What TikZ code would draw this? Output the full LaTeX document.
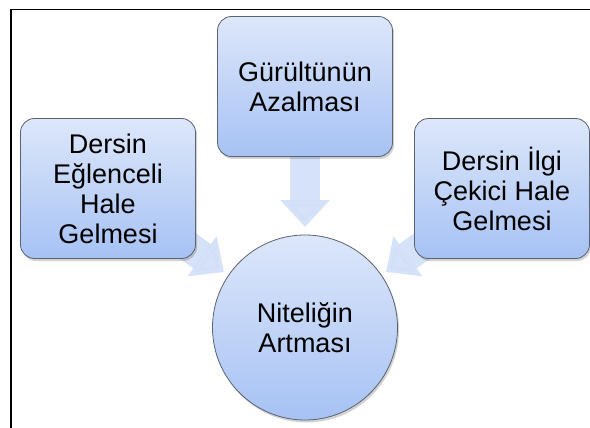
\documentclass[tikz,border=0pt]{standalone}
\usepackage{fontspec}
\setmainfont{Liberation Sans}
\usetikzlibrary{shadows,arrows.meta}
\definecolor{boxtop}{HTML}{DDE7FA}
\definecolor{boxbot}{HTML}{A6C2F4}
\definecolor{arrowc}{HTML}{D2DFF7}
\definecolor{edgec}{HTML}{5C6270}
\pgfdeclarelayer{bg}
\pgfsetlayers{bg,main}
\begin{document}
\begin{tikzpicture}[x=1pt,y=-1pt,
  shade/.style={top color=boxtop, bottom color=boxbot},
  txt/.style={align=center, font=\fontsize{27}{30}\selectfont, text=black},
  shad/.style={drop shadow={shadow xshift=1.5pt, shadow yshift=-2.5pt, opacity=0.25, fill=black!70}},
  box/.style={draw=edgec, line width=0.8pt, rounded corners=14pt, shade, txt, shad,
    minimum width=175pt, minimum height=140pt, inner sep=0pt},
  hub/.style={circle, draw=edgec, line width=0.8pt, shade, txt, shad,
    minimum size=185pt, inner sep=0pt},
  blockarrow/.style={draw=arrowc, line width=30pt, line cap=butt,
    -{Triangle[width=48pt,length=27pt]}, fill opacity=0.9, draw opacity=0.9}
]
\useasboundingbox (0,0) rectangle (590,428);
% frame
\coordinate (fbl) at (11,428);
\coordinate (ftl) at (11,9.5);
\coordinate (ftr) at (590,9.5);
\draw[line width=1.4pt] (fbl) -- (ftl) -- (ftr);

\node[box] (top) at (305,86.5) {Gürültünün\\Azalması};
\node[box] (left) at (108,188.5) {Dersin\\Eğlenceli\\Hale\\Gelmesi};
\node[box] (right) at (502,188.5) {Dersin İlgi\\Çekici Hale\\Gelmesi};
\node[hub] (hub) at (305,327.5) {Niteliğin\\Artması};

\coordinate (tipT) at (305,227);
\coordinate (tipL) at (224,272);
\coordinate (tipR) at (386,272);

\begin{pgfonlayer}{bg}
\draw[blockarrow] (top.center) -- (tipT);
\draw[blockarrow] (left.center) -- (tipL);
\draw[blockarrow] (right.center) -- (tipR);
\end{pgfonlayer}
\end{tikzpicture}
\end{document}
